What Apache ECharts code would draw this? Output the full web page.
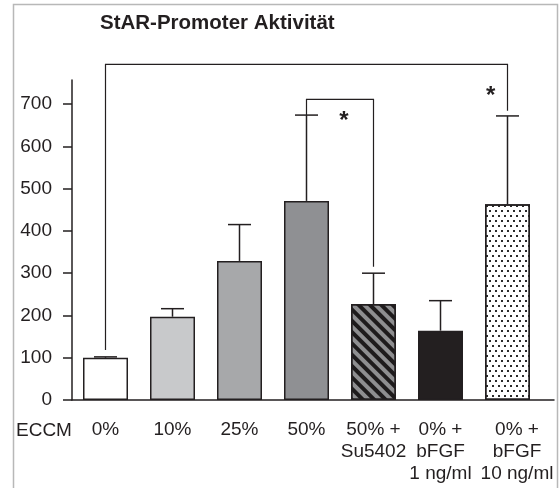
<!DOCTYPE html>
<html>
<head>
<meta charset="utf-8">
<script src="https://cdn.jsdelivr.net/npm/echarts@6/dist/echarts.min.js"></script>
<style>
  html, body { margin: 0; padding: 0; background: #ffffff; }
  #chart { width: 559px; height: 488px; }
</style>
</head>
<body>
<div id="chart"></div>
<script>
// Treatment groups (x axis) and measured promoter activity
const categories = ['0%', '10%', '25%', '50%', '50% +\nSu5402', '0% +\nbFGF\n1 ng/ml', '0% +\nbFGF\n10 ng/ml'];
const means = [100, 197, 329, 471, 227, 164, 463];
const errors = [2, 19, 86, 203, 73, 71, 209];
const yTicks = [0, 100, 200, 300, 400, 500, 600, 700];
// Significance brackets: [from group, to group, bracket height, left foot, right foot]
const brackets = [
  [0, 6, 794, 118, 684],
  [3, 4, 711, 674, 315]
];
// Asterisks: [x position in group units, height]
const stars = [
  [5.75, 729],
  [3.56, 672]
];

const INK = '#231f20';
const FONT = '"Liberation Sans", Arial, Helvetica, sans-serif';

const barFills = [
  { color: '#ffffff' },
  { color: '#c8c9cb' },
  { color: '#a7a8aa' },
  { color: '#8f9093' },
  { color: '#8e8e90', decal: { symbol: 'rect', symbolSize: 1, color: '#1e1b1c', dashArrayX: [1, 0], dashArrayY: [3.4, 3.2], rotation: Math.PI / 4 } },
  { color: '#231f20' },
  { color: '#ffffff', decal: { symbol: 'rect', symbolSize: 1, color: '#2a2a2a', dashArrayX: [[2, 4], [0, 3, 2, 1]], dashArrayY: [2, 3], rotation: 0 } }
];

const barData = means.map((v, i) => ({
  value: [i, v],
  itemStyle: Object.assign({ borderColor: INK, borderWidth: 1.5 }, barFills[i])
}));
const errData = means.map((v, i) => [i, v, errors[i]]);

const chart = echarts.init(document.getElementById('chart'), null, { renderer: 'canvas' });

chart.setOption({
  animation: false,
  backgroundColor: '#ffffff',
  textStyle: { fontFamily: FONT, color: INK },
  title: {
    text: 'StAR-Promoter Aktivität',
    left: 100,
    top: 13,
    padding: 0,
    textStyle: { fontFamily: FONT, fontSize: 20.5, fontWeight: 'bold', color: INK }
  },
  graphic: [
    {
      type: 'rect',
      z: -10,
      shape: { x: 13.5, y: 4.5, width: 544, height: 520 },
      style: { fill: null, stroke: '#b8b8b8', lineWidth: 1.5 }
    },
    {
      type: 'text',
      x: 16,
      y: 420,
      style: { text: 'ECCM', font: '19px ' + FONT, fill: INK, lineHeight: 22, verticalAlign: 'top' }
    }
  ],
  grid: [
    { left: 72, right: 5, top: 80, bottom: 88 },
    { left: 72, width: 469, top: 80, bottom: 88 }
  ],
  xAxis: [
    {
      type: 'value', gridIndex: 0, min: -0.5, max: 6.694,
      axisLine: { show: true, onZero: false, lineStyle: { color: INK, width: 1.5 } },
      axisTick: { show: false }, axisLabel: { show: false }, splitLine: { show: false }
    },
    {
      type: 'category', gridIndex: 1, data: categories, boundaryGap: true,
      axisLine: { show: false }, axisTick: { show: false }, splitLine: { show: false },
      axisLabel: {
        interval: 0, hideOverlap: false, margin: 19,
        fontFamily: FONT, fontSize: 19, lineHeight: 22, color: INK,
        formatter: function (val, idx) {
          if (idx === categories.length - 1) {
            return val.split('\n').map(s => '{shift|' + s + '}').join('\n');
          }
          return val;
        },
        rich: { shift: { padding: [0, 0, 0, 19], fontFamily: FONT, fontSize: 19, lineHeight: 22, color: INK } }
      }
    }
  ],
  yAxis: [
    {
      type: 'value', gridIndex: 0, min: 0, max: 757,
      axisLine: { show: true, onZero: false, lineStyle: { color: INK, width: 1.5 } },
      axisTick: { show: true, length: 9, customValues: yTicks, lineStyle: { color: INK, width: 1.5 } },
      axisLabel: { customValues: yTicks, margin: 20, fontFamily: FONT, fontSize: 19, color: INK },
      splitLine: { show: false }
    },
    { type: 'value', gridIndex: 1, min: 0, max: 757, show: false }
  ],
  series: [
    {
      type: 'bar',
      xAxisIndex: 0, yAxisIndex: 0,
      barWidth: 45,
      data: barData,
      z: 2
    },
    {
      type: 'custom',
      xAxisIndex: 0, yAxisIndex: 0,
      z: 3,
      clip: false,
      data: errData,
      encode: { x: 0, y: [1, 2] },
      renderItem: function (params, api) {
        const x = api.value(0), m = api.value(1), e = api.value(2);
        const p0 = api.coord([x, m]);
        const p1 = api.coord([x, m + e]);
        const half = 11.5;
        const st = { stroke: INK, lineWidth: 1.5 };
        return {
          type: 'group',
          children: [
            { type: 'line', shape: { x1: p0[0], y1: p0[1], x2: p1[0], y2: p1[1] }, style: st },
            { type: 'line', shape: { x1: p1[0] - half, y1: p1[1], x2: p1[0] + half, y2: p1[1] }, style: st }
          ]
        };
      }
    },
    {
      type: 'custom',
      xAxisIndex: 0, yAxisIndex: 0,
      z: 3,
      clip: false,
      data: brackets,
      encode: { x: [0, 1], y: [2, 3, 4] },
      renderItem: function (params, api) {
        const a = api.value(0), b = api.value(1), top = api.value(2);
        const l = api.value(3), r = api.value(4);
        const pts = [api.coord([a, l]), api.coord([a, top]), api.coord([b, top]), api.coord([b, r])];
        return {
          type: 'polyline',
          shape: { points: pts },
          style: { stroke: INK, lineWidth: 1.2, fill: null }
        };
      }
    },
    {
      type: 'custom',
      xAxisIndex: 0, yAxisIndex: 0,
      z: 3,
      clip: false,
      data: stars,
      encode: { x: 0, y: 1 },
      renderItem: function (params, api) {
        const p = api.coord([api.value(0), api.value(1)]);
        // the asterisk glyph sits high in its line box, so nudge it down
        return {
          type: 'text',
          x: p[0], y: p[1] + 5,
          style: { text: '*', font: 'bold 24px ' + FONT, fill: INK, align: 'center', verticalAlign: 'middle' }
        };
      }
    }
  ]
});
</script>
</body>
</html>
